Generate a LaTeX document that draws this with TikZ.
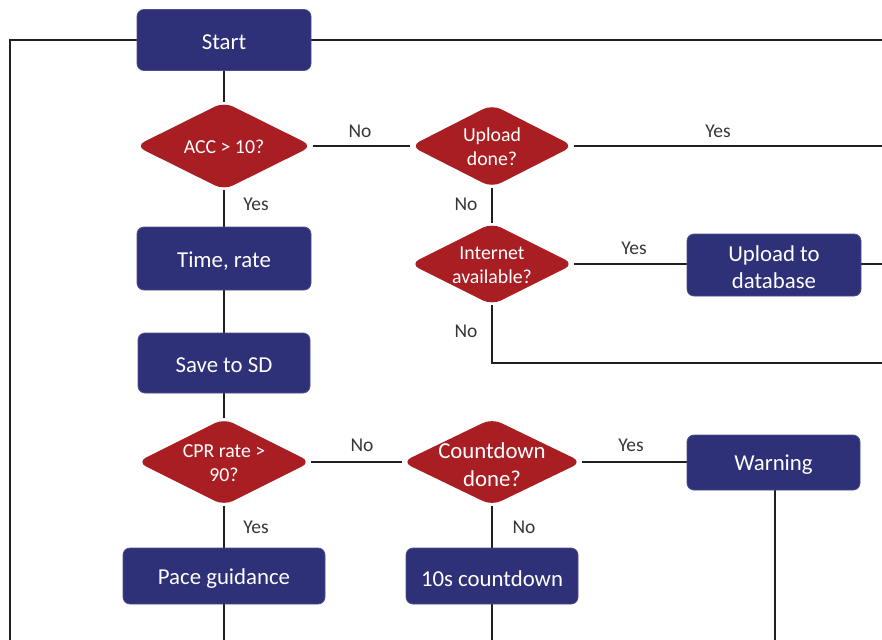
\documentclass[tikz,border=0pt]{standalone}
\usepackage{fontspec}
\setmainfont{Carlito}
\usetikzlibrary{shapes.geometric,backgrounds}
\definecolor{navy}{RGB}{46,48,120}
\definecolor{alarm}{RGB}{169,30,35}
\definecolor{ink}{RGB}{35,31,32}
\tikzset{
  box/.style={rectangle, rounded corners=7pt, fill=navy, draw=navy!85!white, line width=0.8pt,
    inner sep=0pt},
  boxtext/.style={text=white, align=center, yshift=-2.5pt, font=\fontsize{22.8}{27}\selectfont},
  test/.style={diamond, rounded corners=10pt, fill=alarm, inner sep=0pt},
  testtext/.style={text=white, align=center, yshift=-1pt, font=\fontsize{19.8}{24}\selectfont},
  bigtesttext/.style={text=white, align=center, yshift=-3pt, font=\fontsize{22.8}{28}\selectfont},
  wire/.style={draw=ink, line width=2.2pt},
  tag/.style={text=ink!90, font=\fontsize{19.5}{22}\selectfont},
}
\begin{document}
\begin{tikzpicture}[x=1pt,y=-1pt]
\useasboundingbox (0,0) rectangle (882,639);
\clip (0,0) rectangle (882,639);

% off-page ends of the flow lines
\coordinate (loopL) at (10,40);
\coordinate (loopB) at (10,645);
\coordinate (startR) at (890,40);
\coordinate (upYesR) at (890,146);
\coordinate (dbR) at (890,264);
\coordinate (netNo) at (492,363);
\coordinate (netNoR) at (890,363);
\coordinate (warnB) at (775,645);
\coordinate (cdB) at (492,645);
\coordinate (paceB) at (224,645);

% process boxes
\node[box, minimum width=174, minimum height=61, label={[boxtext]center:Start}] (start) at (224,40) {};
\node[box, minimum width=174, minimum height=63, label={[boxtext]center:Time, rate}] (time) at (224,258.5) {};
\node[box, minimum width=172, minimum height=60, label={[boxtext]center:Save to SD}] (sd) at (224,363) {};
\node[box, minimum width=174, minimum height=62, label={[boxtext]center:Upload to\\database}] (db) at (774,265) {};
\node[box, minimum width=173, minimum height=55, label={[boxtext]center:Warning}] (warn) at (773.5,462.5) {};
\node[box, minimum width=202, minimum height=56, label={[boxtext]center:Pace guidance}] (pace) at (224,576) {};
\node[box, minimum width=172, minimum height=56, label={[boxtext]center:10s countdown}] (cd) at (492,576) {};

% decisions
\node[test, aspect=2.02, minimum width=177, minimum height=88,
  label={[testtext]center:ACC > 10?}] (acc) at (224,146) {};
\node[test, aspect=2.0, minimum width=163, minimum height=83,
  label={[testtext]center:Upload\\done?}] (up) at (492,146) {};
\node[test, aspect=2.05, minimum width=164, minimum height=82,
  label={[testtext]center:Internet\\available?}] (net) at (492,264) {};
\node[test, aspect=2.02, minimum width=174, minimum height=87,
  label={[testtext]center:CPR rate >\\90?}] (cpr) at (224,462) {};
\node[test, aspect=2.08, minimum width=180, minimum height=87,
  label={[bigtesttext]center:Countdown\\done?}] (cdd) at (492,462) {};

% connectors, kept under the shapes
\begin{scope}[on background layer]
\draw[wire] (start.west) -- (loopL) -- (loopB);
\draw[wire] (start.east) -- (startR);
\draw[wire] (start.south) -- (acc.north);
\draw[wire] (acc.east) -- (up.west);
\draw[wire] (up.east) -- (upYesR);
\draw[wire] (up.south) -- (net.north);
\draw[wire] (net.east) -- (db.west |- net.east);
\draw[wire] (db.east |- net.east) -- (dbR);
\draw[wire] (net.south) -- (netNo) -- (netNoR);
\draw[wire] (acc.south) -- (time.north);
\draw[wire] (time.south) -- (sd.north);
\draw[wire] (sd.south) -- (cpr.north);
\draw[wire] (cpr.east) -- (cdd.west);
\draw[wire] (cdd.east) -- (warn.west |- cdd.east);
\draw[wire] (warn.south -| warnB) -- (warnB);
\draw[wire] (cdd.south) -- (cd.north);
\draw[wire] (cd.south) -- (cdB);
\draw[wire] (cpr.south) -- (pace.north);
\draw[wire] (pace.south) -- (paceB);
\end{scope}

% branch labels
\node[tag] (l1) at (360,131) {No};
\node[tag] (l2) at (718,131) {Yes};
\node[tag] (l3) at (466,204) {No};
\node[tag] (l4) at (256,204) {Yes};
\node[tag] (l5) at (634,248) {Yes};
\node[tag] (l6) at (466,331) {No};
\node[tag] (l7) at (362,445) {No};
\node[tag] (l8) at (631,445) {Yes};
\node[tag] (l9) at (256,527) {Yes};
\node[tag] (l10) at (524,527) {No};
\end{tikzpicture}
\end{document}
